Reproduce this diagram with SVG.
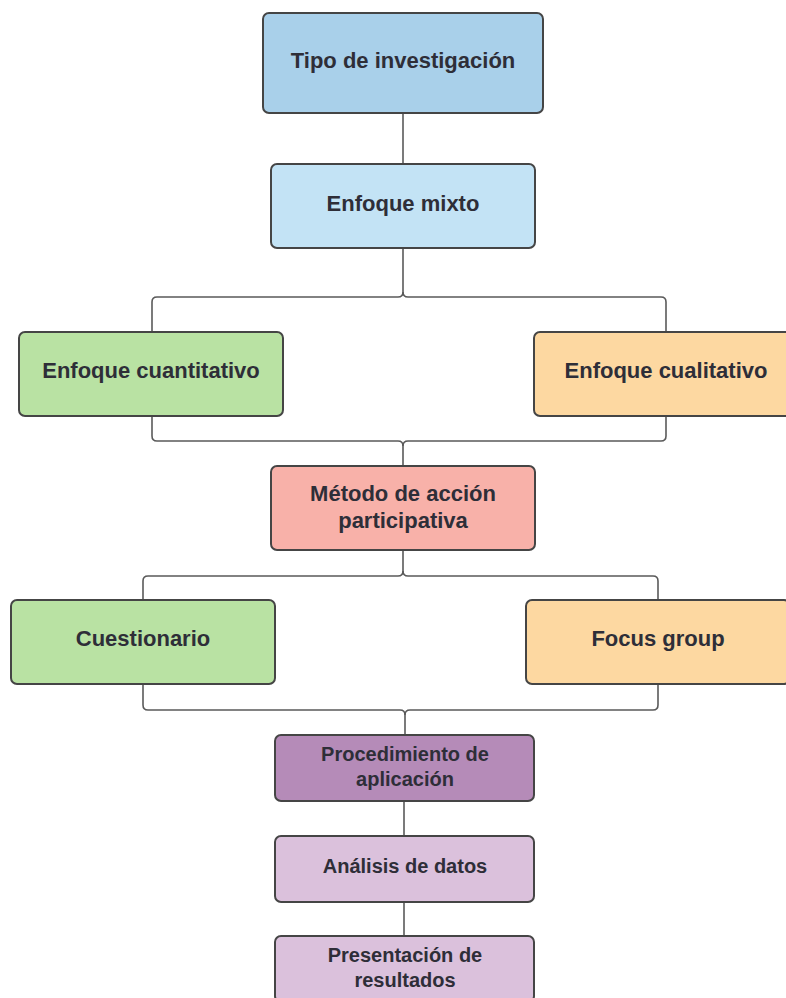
<svg xmlns="http://www.w3.org/2000/svg" width="786" height="998" viewBox="0 0 786 998">
<style>
.n{stroke:#454545;stroke-width:2}
.t{font-family:"Liberation Sans",Arial,sans-serif;font-weight:bold;font-size:22px;fill:#2e2e38;text-anchor:middle;dominant-baseline:central}
.s{font-size:20px}
.c{fill:none;stroke:#5a5a5a;stroke-width:1.6}
</style>
<rect width="786" height="998" fill="#ffffff"/>
<g id="connectors">
<path class="c" d="M403 113V164"/>
<path class="c" d="M403 248V292Q403 297 398 297H157Q152 297 152 302V332"/>
<path class="c" d="M403 292Q403 297 408 297H661Q666 297 666 302V332"/>
<path class="c" d="M152 416V436Q152 441 157 441H398Q403 441 403 446V466"/>
<path class="c" d="M666 416V436Q666 441 661 441H408Q403 441 403 446"/>
<path class="c" d="M403 550V571Q403 576 398 576H148Q143 576 143 581V600"/>
<path class="c" d="M403 571Q403 576 408 576H653Q658 576 658 581V600"/>
<path class="c" d="M143 684V705Q143 710 148 710H400Q405 710 405 715V735"/>
<path class="c" d="M658 684V705Q658 710 653 710H410Q405 710 405 715"/>
<path class="c" d="M404 801V836"/>
<path class="c" d="M404 902V936"/>
</g>
<g id="n1"><rect class="n" x="263" y="13" width="280" height="100" rx="6" fill="#a9d0ea"/><text class="t" x="403" y="60">Tipo de investigación</text></g>
<g id="n2"><rect class="n" x="271" y="164" width="264" height="84" rx="6" fill="#c3e3f5"/><text class="t" x="403" y="203">Enfoque mixto</text></g>
<g id="n3"><rect class="n" x="19" y="332" width="264" height="84" rx="6" fill="#b9e2a3"/><text class="t" x="151" y="370">Enfoque cuantitativo</text></g>
<g id="n4"><rect class="n" x="534" y="332" width="264" height="84" rx="6" fill="#fdd8a1"/><text class="t" x="666" y="370">Enfoque cualitativo</text></g>
<g id="n5"><rect class="n" x="271" y="466" width="264" height="84" rx="6" fill="#f8b1a9"/><text class="t" x="403" y="493">Método de acción</text><text class="t" x="403" y="520">participativa</text></g>
<g id="n6"><rect class="n" x="11" y="600" width="264" height="84" rx="6" fill="#b9e2a3"/><text class="t" x="143" y="638">Cuestionario</text></g>
<g id="n7"><rect class="n" x="526" y="600" width="264" height="84" rx="6" fill="#fdd8a1"/><text class="t" x="658" y="638">Focus group</text></g>
<g id="n8"><rect class="n" x="275" y="735" width="259" height="66" rx="6" fill="#b58bb8"/><text class="t s" x="405" y="754">Procedimiento de</text><text class="t s" x="405" y="779">aplicación</text></g>
<g id="n9"><rect class="n" x="275" y="836" width="259" height="66" rx="6" fill="#dbc1dc"/><text class="t s" x="405" y="866">Análisis de datos</text></g>
<g id="n10"><rect class="n" x="275" y="936" width="259" height="66" rx="6" fill="#dbc1dc"/><text class="t s" x="405" y="955">Presentación de</text><text class="t s" x="405" y="980">resultados</text></g>
</svg>
